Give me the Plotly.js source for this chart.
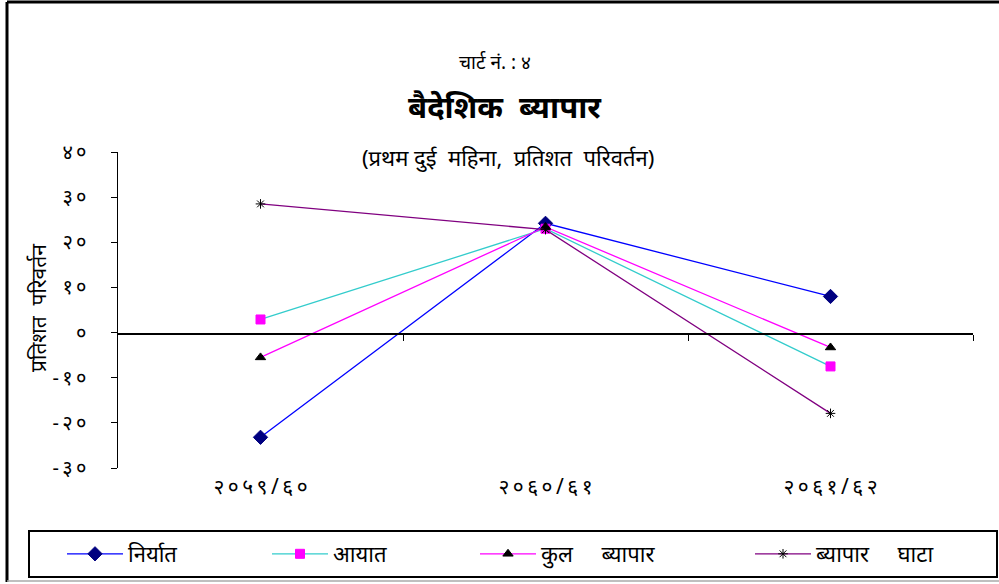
<!DOCTYPE html>
<html>
<head>
<meta charset="utf-8">
<script src="https://cdn.plot.ly/plotly-3.0.1.min.js"></script>
<style>
  html, body { margin: 0; padding: 0; background: #fff; }
  #chart { width: 999px; height: 584px; }
</style>
</head>
<body>
<div id="chart"></div>
<script>
// --- Data ---
const years = ["२०५९/६०", "२०६०/६१", "२०६१/६२"];
const exportsPct = [-23.2, 24.2, 8.0];
const importsPct = [2.9, 23.0, -7.5];
const totalTradePct = [-5.5, 23.4, -3.3];
const tradeDeficitPct = [28.5, 22.8, -17.9];

const yTickVals = [40, 30, 20, 10, 0, -10, -20, -30];
const yTickText = ["४०", "३०", "२०", "१०", "०", "-१०", "-२०", "-३०"];

const seriesNames = ["निर्यात", "आयात", "कुल\u00a0\u00a0\u00a0\u00a0\u00a0ब्यापार", "ब्यापार\u00a0\u00a0\u00a0\u00a0\u00a0घाटा"];

// --- Helpers ---
const font = "Noto Sans, DejaVu Sans, sans-serif";
const THIN = "\u2009";
const spaced = (s) => Array.from(s).join(THIN);
const xIdx = years.map((_, i) => i);

// plot area in pixels: x 118..973, y 152..468
const px = (x) => (x - 118) / 855;
const py = (y) => (468 - y) / 316;

function lineTrace(name, y, lineColor, symbol, markerColor, size, legendId) {
  return {
    x: xIdx,
    y: y,
    name: name,
    legend: legendId,
    type: "scatter",
    mode: "lines+markers",
    line: { color: lineColor, width: 1.3 },
    marker: { symbol: symbol, color: markerColor, size: size, line: { color: markerColor, width: 1 } },
  };
}

const traces = [
  lineTrace(seriesNames[0], exportsPct, "#0000ff", "diamond", "#000080", 11, "legend"),
  lineTrace(seriesNames[1], importsPct, "#33cccc", "square", "#ff00ff", 9, "legend2"),
  lineTrace(seriesNames[2], totalTradePct, "#ff00ff", "triangle-up", "#000000", 9, "legend3"),
  lineTrace(seriesNames[3], tradeDeficitPct, "#800080", "asterisk-open", "#000000", 8, "legend4"),
];

// zero-crossing category axis (ticks between categories, no labels)
traces.push({
  x: [-0.5, 2.5], y: [0, 0], xaxis: "x2", yaxis: "y",
  type: "scatter", mode: "lines", line: { width: 0 },
  showlegend: false, hoverinfo: "skip",
});

function legendAt(xPx) {
  return {
    xref: "container", yref: "container",
    x: xPx / 999, xanchor: "left",
    y: 1 - 554 / 584, yanchor: "middle",
    bgcolor: "rgba(0,0,0,0)",
    borderwidth: 0,
    itemwidth: 56,
    font: { family: font, size: 22 },
  };
}

function note(text, xPx, yPx, size, extra) {
  return Object.assign({
    text: text, xref: "paper", yref: "paper", x: px(xPx), y: py(yPx),
    xanchor: "center", yanchor: "middle", showarrow: false,
    font: { family: font, size: size },
  }, extra || {});
}

const layout = {
  width: 999,
  height: 584,
  paper_bgcolor: "#fff",
  plot_bgcolor: "#fff",
  margin: { l: 118, r: 26, t: 152, b: 116, autoexpand: false },
  font: { family: font, size: 15, color: "#000" },
  showlegend: true,
  xaxis: {
    range: [-0.5, 2.5],
    tickvals: xIdx,
    ticktext: years.map(spaced),
    showline: false,
    showgrid: false,
    zeroline: false,
    ticks: "",
    ticklabelstandoff: 4,
    tickfont: { family: font, size: 21 },
  },
  xaxis2: {
    overlaying: "x",
    anchor: "free",
    position: py(333),
    range: [-0.5, 2.5],
    tickvals: [0.5, 1.5, 2.5],
    showticklabels: false,
    showline: true,
    linecolor: "#000",
    linewidth: 1.5,
    ticks: "outside",
    ticklen: 6,
    tickcolor: "#000",
    showgrid: false,
    zeroline: false,
  },
  yaxis: {
    range: [-30, 40],
    tickvals: yTickVals,
    ticktext: yTickText.map(spaced),
    showline: true,
    linecolor: "#000",
    linewidth: 1.5,
    ticks: "outside",
    ticklen: 6,
    tickcolor: "#000",
    showgrid: false,
    zeroline: false,
    ticklabelstandoff: 20,
    tickfont: { family: font, size: 20 },
  },
  legend: legendAt(62),
  legend2: legendAt(267),
  legend3: legendAt(475),
  legend4: legendAt(750),
  annotations: [
    note("चार्ट नं. : ४", 495, 62, 19),
    note("<b>बैदेशिक  ब्यापार</b>", 505, 106, 31),
    note("(प्रथम\u00a0दुई\u00a0\u00a0महिना,\u00a0\u00a0प्रतिशत\u00a0\u00a0परिवर्तन)", 508, 157, 22),
    note("प्रतिशत\u00a0\u00a0परिवर्तन", 38, 308, 21, { textangle: -90 }),
  ],
  shapes: [
    // outer chart frame
    { type: "line", xref: "paper", yref: "paper", x0: px(7), x1: px(1000), y0: py(2), y1: py(2),
      line: { color: "#000", width: 3 } },
    { type: "line", xref: "paper", yref: "paper", x0: px(7), x1: px(7), y0: py(2), y1: py(582),
      line: { color: "#000", width: 3 } },
    { type: "line", xref: "paper", yref: "paper", x0: px(7), x1: px(1000), y0: py(581), y1: py(581),
      line: { color: "#aaa", width: 1.5 } },
    // legend box
    { type: "rect", xref: "paper", yref: "paper", x0: px(29), x1: px(997), y0: py(531), y1: py(577),
      line: { color: "#000", width: 2 }, fillcolor: "rgba(0,0,0,0)", layer: "below" },
  ],
};

Plotly.newPlot("chart", traces, layout, { displayModeBar: false, staticPlot: true });
</script>
</body>
</html>
